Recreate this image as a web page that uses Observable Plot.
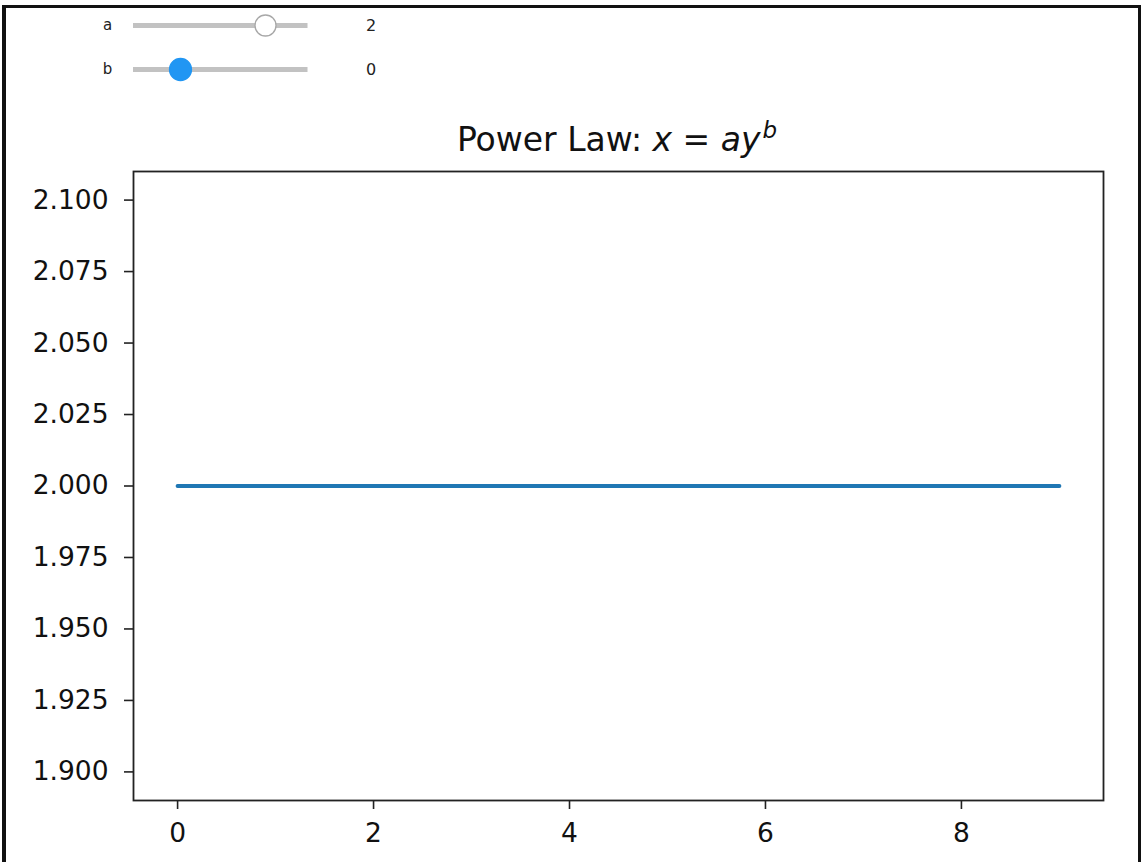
<!DOCTYPE html>
<html>
<head>
<meta charset="utf-8">
<script src="https://cdn.jsdelivr.net/npm/d3@7"></script>
<script src="https://cdn.jsdelivr.net/npm/@observablehq/plot@0.6"></script>
<style>
  html, body { margin: 0; padding: 0; background: #fff; }
  #wrap { position: relative; width: 1141px; height: 862px; overflow: hidden; background: #fff; }
  #border { position: absolute; left: 2px; top: 5px; width: 1139px; height: 900px; box-sizing: border-box;
            border-left: 4px solid #111; border-top: 3px solid #111; border-right: 3px solid #111; }
  #sliders, #chart { position: absolute; left: 0; top: 0; }
</style>
</head>
<body>
<div id="wrap">
  <div id="border"></div>
  <div id="chart"></div>
  <div id="sliders"></div>
</div>
<script>
// ---- data ----
const sliderNames = ["a", "b"];
const sliderValues = [2, 0];
const sliderMin = [-1, -1];
const sliderMax = [3, 3];

const xValues = [0, 1, 2, 3, 4, 5, 6, 7, 8, 9];
const yValues = [2, 2, 2, 2, 2, 2, 2, 2, 2, 2];

const xTicks = [0, 2, 4, 6, 8];
const yTicks = [1.9, 1.925, 1.95, 1.975, 2.0, 2.025, 2.05, 2.075, 2.1];

const titlePlain = "Power Law: ";
const titleMath = ["x", " = ", "ay", "b"];

// ---- tables ----
const series = xValues.map((x, i) => ({x, y: yValues[i]}));
const sliders = sliderNames.map((name, i) => ({name, value: sliderValues[i], min: sliderMin[i], max: sliderMax[i]}));

// ---- main chart ----
const chart = Plot.plot({
  width: 1141,
  height: 862,
  marginLeft: 133,
  marginRight: 38,
  marginTop: 171,
  marginBottom: 62,
  style: {fontFamily: "DejaVu Sans", fontSize: "26.5px", color: "#111", background: "transparent"},
  x: {domain: [-0.45, 9.45]},
  y: {domain: [1.89, 2.11]},
  marks: [
    Plot.line(series, {x: "x", y: "y", stroke: "#1f77b4", strokeWidth: 3.9}),
    Plot.frame({stroke: "#222", strokeWidth: 1.8}),
    Plot.axisX({ticks: xTicks, tickSize: 9, tickPadding: 14, label: null, stroke: "#222", strokeWidth: 1.6}),
    Plot.axisY({ticks: yTicks, tickFormat: d3.format(".3f"), tickSize: 9, tickPadding: 16, label: null, stroke: "#222", strokeWidth: 1.6})
  ]
});

const title = d3.select(chart).append("text")
  .attr("x", 617).attr("y", 151)
  .attr("text-anchor", "middle")
  .style("font-size", "33px").style("font-family", "DejaVu Sans").attr("fill", "#111");
title.append("tspan").text(titlePlain);
title.append("tspan").style("font-style", "italic").text(titleMath[0]);
title.append("tspan").text(titleMath[1]);
title.append("tspan").style("font-style", "italic").text(titleMath[2]);
title.append("tspan").style("font-style", "italic").style("font-size", "23px").attr("dx", 2).attr("dy", -13).text(titleMath[3]);

document.getElementById("chart").append(chart);

// ---- slider widgets ----
const sliderPlot = Plot.plot({
  width: 420,
  height: 95,
  margin: 0,
  style: {fontFamily: "DejaVu Sans", fontSize: "14px", color: "#222", background: "transparent"},
  x: {domain: [-1, 3], range: [137.5, 307.5], axis: null},
  y: {type: "point", domain: sliderNames, range: [25, 69], padding: 0, axis: null},
  r: {type: "identity"},
  color: {type: "identity"},
  marks: [
    Plot.ruleY(sliders, {y: "name", x1: "min", x2: "max", stroke: "#c2c2c2", strokeWidth: 5, insetLeft: -4.5}),
    Plot.dot(sliders, {x: "value", y: "name", r: (d, i) => i === 1 ? 11 : 10.5,
      fill: (d, i) => i === 1 ? "#2196f3" : "#ffffff",
      stroke: (d, i) => i === 1 ? "#2196f3" : "#a8a8a8", strokeWidth: 1.3}),
    Plot.text(sliders, {y: "name", text: "name", frameAnchor: "left", dx: 107, textAnchor: "middle", fontSize: 15}),
    Plot.text(sliders, {x: "max", y: "name", text: d => String(d.value), dx: 63, fontSize: 16})
  ]
});
document.getElementById("sliders").append(sliderPlot);
</script>
</body>
</html>
